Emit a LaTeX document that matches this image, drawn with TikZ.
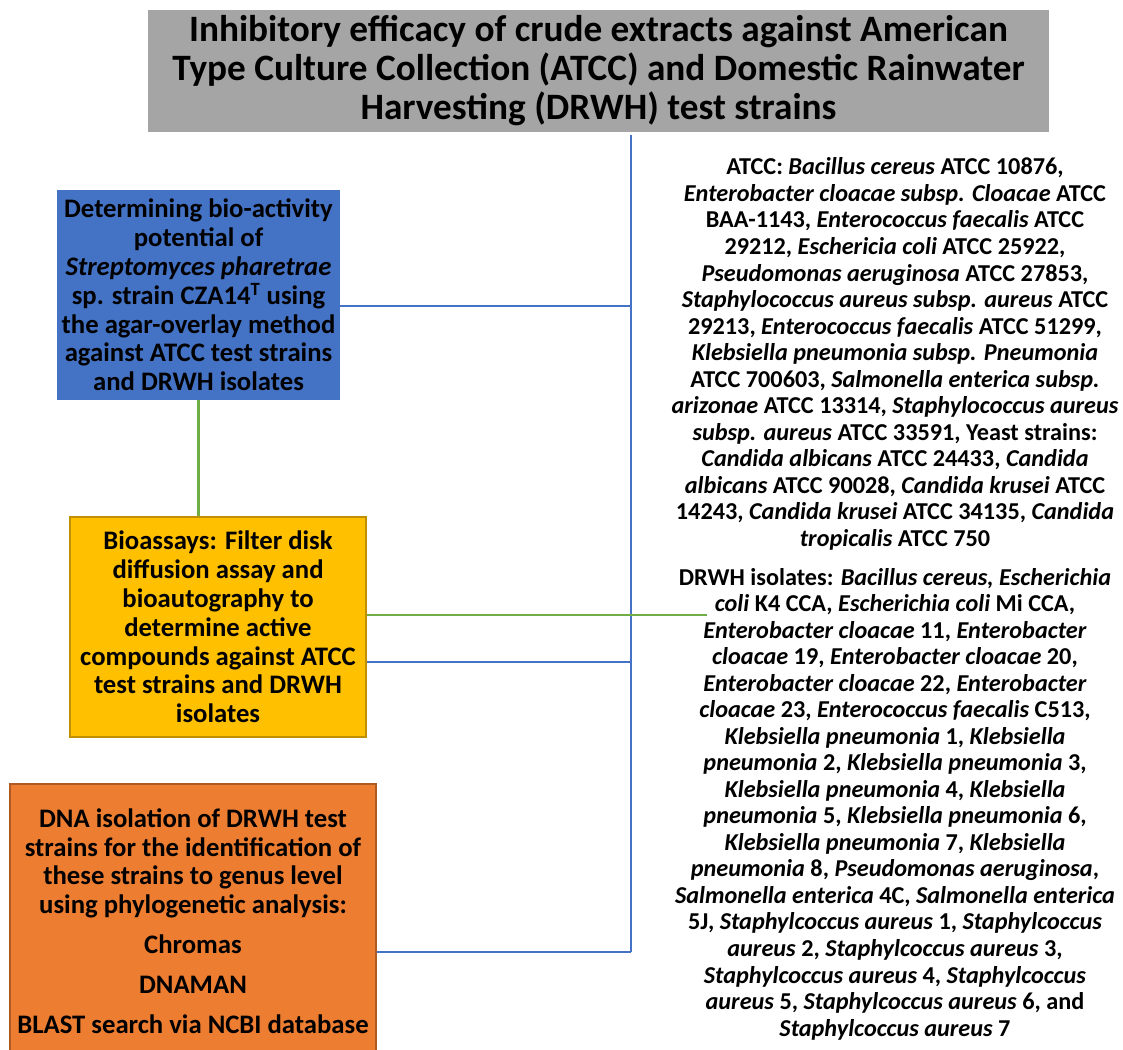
\documentclass[tikz,border=0pt]{standalone}
\usepackage{fontspec}
\setmainfont{Carlito}
\usetikzlibrary{positioning}
\definecolor{titlegray}{HTML}{A5A5A5}
\definecolor{accentblue}{HTML}{4472C4}
\definecolor{accentgold}{HTML}{FFC000}
\definecolor{goldedge}{HTML}{BF9000}
\definecolor{accentorange}{HTML}{ED7D31}
\definecolor{orangeedge}{HTML}{AE5A21}
\definecolor{accentgreen}{HTML}{70AD47}

\begin{document}
\begin{tikzpicture}[x=0.02cm,y=-0.02cm,
  box/.style={align=center,inner sep=0pt,font={\fontsize{15.2}{16.4}\selectfont\bfseries}},
  striplist/.style={align=center,inner sep=0pt,font={\fontsize{13.8}{15.1}\selectfont\bfseries}},
  blueline/.style={draw=accentblue,line width=1.6pt},
  greenline/.style={draw=accentgreen,line width=1.3pt}]
\useasboundingbox (0,0) rectangle (1123,1050);

\node[box,fill=titlegray,minimum width=18.02cm,minimum height=2.44cm,font={\fontsize{21.2}{22.2}\selectfont\bfseries}] (title) at (598.5,71) {Inhibitory efficacy of crude extracts against American\\Type Culture Collection (ATCC) and Domestic Rainwater\\Harvesting (DRWH) test strains};

\node[box,fill=accentblue,minimum width=5.66cm,minimum height=4.2cm] (bioactivity) at (198.5,295) {Determining bio-activity\\potential of\\\textit{Streptomyces pharetrae}\\sp. strain CZA14\textsuperscript{T} using\\the agar-overlay method\\against ATCC test strains\\and DRWH isolates};
\node[box,fill=accentgold,draw=goldedge,line width=1pt,minimum width=5.92cm,minimum height=4.4cm] (bioassay) at (218,627) {Bioassays: Filter disk\\diffusion assay and\\bioautography to\\determine active\\compounds against ATCC\\test strains and DRWH\\isolates};
\node[box,fill=accentorange,draw=orangeedge,line width=1pt,minimum width=7.31cm,minimum height=5.48cm] (dnaiso) at (193,921) {DNA isolation of DRWH test\\strains for the identification of\\these strains to genus level\\using phylogenetic analysis:\\[0.22cm]Chromas\\[0.22cm]DNAMAN\\[0.22cm]BLAST search via NCBI database};

\node[striplist] (atcc) at (895,354) {ATCC: \textit{Bacillus cereus} ATCC 10876,\\\textit{Enterobacter cloacae subsp. Cloacae} ATCC\\BAA-1143, \textit{Enterococcus faecalis} ATCC\\29212, \textit{Eschericia coli} ATCC 25922,\\\textit{Pseudomonas aeruginosa} ATCC 27853,\\\textit{Staphylococcus aureus subsp. aureus} ATCC\\29213, \textit{Enterococcus faecalis} ATCC 51299,\\\textit{Klebsiella pneumonia subsp. Pneumonia}\\ATCC 700603, \textit{Salmonella enterica subsp.}\\\textit{arizonae} ATCC 13314, \textit{Staphylococcus aureus}\\\textit{subsp. aureus} ATCC 33591, Yeast strains:\\\textit{Candida albicans} ATCC 24433, \textit{Candida}\\\textit{albicans} ATCC 90028, \textit{Candida krusei} ATCC\\14243, \textit{Candida krusei} ATCC 34135, \textit{Candida}\\\textit{tropicalis} ATCC 750};
\node[striplist] (drwh) at (895,804) {DRWH isolates: \textit{Bacillus cereus, Escherichia}\\\textit{coli} K4 CCA, \textit{Escherichia coli} Mi CCA,\\\textit{Enterobacter cloacae} 11, \textit{Enterobacter}\\\textit{cloacae} 19, \textit{Enterobacter cloacae} 20,\\\textit{Enterobacter cloacae} 22, \textit{Enterobacter}\\\textit{cloacae} 23, \textit{Enterococcus faecalis} C513,\\\textit{Klebsiella pneumonia} 1, \textit{Klebsiella}\\\textit{pneumonia} 2, \textit{Klebsiella pneumonia} 3,\\\textit{Klebsiella pneumonia} 4, \textit{Klebsiella}\\\textit{pneumonia} 5, \textit{Klebsiella pneumonia} 6,\\\textit{Klebsiella pneumonia} 7, \textit{Klebsiella}\\\textit{pneumonia} 8, \textit{Pseudomonas aeruginosa},\\\textit{Salmonella enterica} 4C, \textit{Salmonella enterica}\\5J, \textit{Staphylcoccus aureus} 1, \textit{Staphylcoccus}\\\textit{aureus} 2, \textit{Staphylcoccus aureus} 3,\\\textit{Staphylcoccus aureus} 4, \textit{Staphylcoccus}\\\textit{aureus} 5, \textit{Staphylcoccus aureus} 6, and\\\textit{Staphylcoccus aureus} 7};

\coordinate (trunk) at (631,952);
\coordinate (greenend) at (707,615);
\draw[blueline] (trunk |- 0,135) -- (trunk);
\draw[blueline] (bioactivity.east |- 0,306) -- (trunk |- 0,306);
\draw[blueline] (bioassay.east |- 0,662) -- (trunk |- 0,662);
\draw[blueline] (dnaiso.east |- trunk) -- (trunk);
\draw[greenline] (bioactivity.south) -- (bioactivity.south |- bioassay.north);
\draw[greenline] (bioassay.east |- greenend) -- (greenend);

\end{tikzpicture}
\end{document}
